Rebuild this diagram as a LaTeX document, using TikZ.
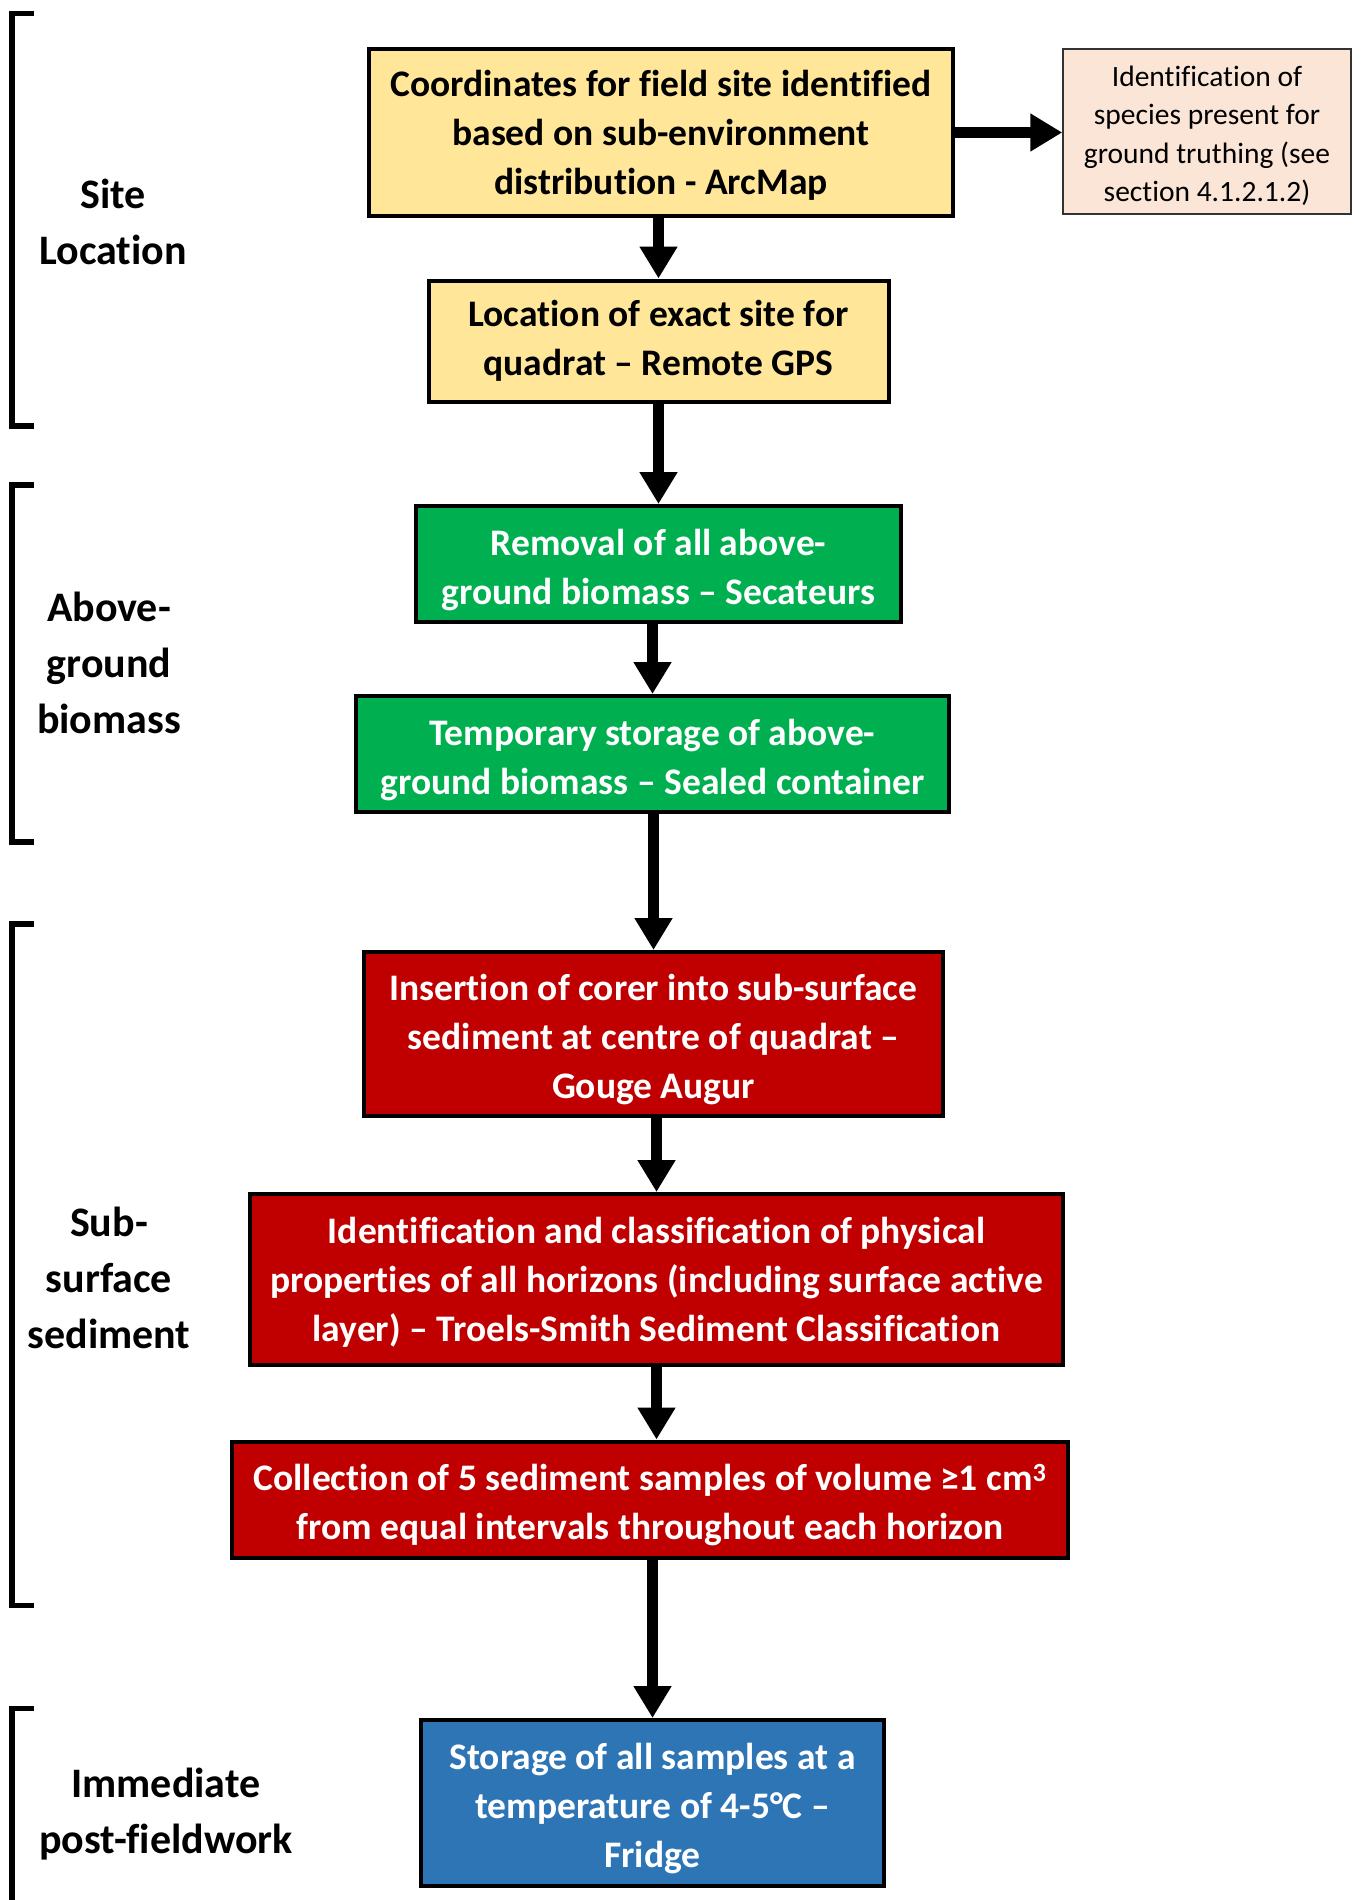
\documentclass[tikz,border=0pt]{standalone}
\usepackage{fontspec}
\setmainfont{Carlito}[Ligatures={TeX,NoCommon}]
\usetikzlibrary{arrows.meta,calc}
\definecolor{yel}{HTML}{FFE699}
\definecolor{peach}{HTML}{FBE5D6}
\definecolor{grn}{HTML}{00B050}
\definecolor{rd}{HTML}{C00000}
\definecolor{blu}{HTML}{2E75B6}
\newcommand\boxfnt{\fontsize{37.5}{49}\selectfont\bfseries}
\newcommand\labfnt{\fontsize{42}{56}\selectfont\bfseries}
\newcommand\idfnt{\fontsize{29.5}{38.5}\selectfont}
\newcommand\lead[1][38pt]{\rule{0pt}{#1}}
\newcommand\idlead{\rule{0pt}{29pt}}
\tikzset{
  stepbox/.style={draw=black, line width=4pt, inner sep=0pt, align=center, font=\boxfnt},
  whitetxt/.style={text=white},
  sidelab/.style={inner sep=0pt, align=center, font=\labfnt},
  arr/.style={line width=11pt, -{Triangle[length=32pt,width=36pt]}},
  brack/.style={line width=5.5pt}
}
\begin{document}
\begin{tikzpicture}[x=1pt,y=-1pt]
\path[use as bounding box] (0,0) rectangle (1362,1900);
% brackets
\draw[brack] (34,13.5) -- (12,13.5) -- (12,426) -- (34,426);
\draw[brack] (34,485) -- (12,485) -- (12,842) -- (34,842);
\draw[brack] (34,924) -- (12,924) -- (12,1605.5) -- (34,1605.5);
\draw[brack] (34,1708.5) -- (12,1708.5) -- (12,1905);
% side labels
\node[sidelab] (l1) at (113,221.5) {Site\\Location};
\node[sidelab] (l2) at (109,663) {Above-\\ground\\biomass};
\node[sidelab] (l3) at (109,1278) {Sub-\\surface\\sediment};
\node[sidelab] (l4) at (166,1814) {Immediate\\post-fieldwork};
% boxes
\node[stepbox, fill=yel, minimum width=584pt, minimum height=167pt] (b1) at (661,132.5)
  {\lead[31pt]Coordinates for field site identified\\based on sub-environment\\distribution - ArcMap};
\node[draw=black!80, line width=1.5pt, fill=peach, inner sep=0pt, align=center, font=\idfnt,
  minimum width=288pt, minimum height=165pt] (id) at (1207,131.5)
  {\idlead Identification of\\species present for\\ground truthing (see\\section 4.1.2.1.2)};
\node[stepbox, fill=yel, minimum width=460pt, minimum height=121pt] (b2) at (658.5,341)
  {Location of exact site for\\quadrat – Remote GPS};
\node[stepbox, whitetxt, fill=grn, minimum width=485pt, minimum height=116pt] (b3) at (658.5,564)
  {\lead Removal of all above-\\ground biomass – Secateurs};
\node[stepbox, whitetxt, fill=grn, minimum width=593pt, minimum height=116pt] (b4) at (652.5,754)
  {\lead Temporary storage of above-\\ground biomass – Sealed container};
\node[stepbox, whitetxt, fill=rd, minimum width=579pt, minimum height=164pt] (b5) at (653.5,1034)
  {\lead Insertion of corer into sub-surface\\sediment at centre of quadrat –\\Gouge Augur};
\node[stepbox, whitetxt, fill=rd, minimum width=813pt, minimum height=171pt] (b6) at (656.5,1279.5)
  {\lead[31pt]Identification and classification of physical\\properties of all horizons (including surface active\\layer) – Troels-Smith Sediment Classification};
\node[stepbox, whitetxt, fill=rd, minimum width=836pt, minimum height=116pt] (b7) at (650,1499.5)
  {\lead Collection of 5 sediment samples of volume ≥1 cm\textsuperscript{3}\\from equal intervals throughout each horizon};
\node[stepbox, whitetxt, fill=blu, minimum width=463pt, minimum height=166pt] (b8) at (652.5,1803)
  {\lead Storage of all samples at a\\temperature of 4-5°C –\\Fridge};
% connectors
\draw[arr] (b1.east) -- (b1.east -| id.west);
\draw[arr] (b2.north |- b1.south) -- (b2.north);
\draw[arr] (b3.north |- b2.south) -- (b3.north);
\draw[arr] (b4.north |- b3.south) -- (b4.north);
\draw[arr] (b5.north |- b4.south) -- (b5.north);
\draw[arr] (b6.north |- b5.south) -- (b6.north);
\draw[arr] (b6.south) -- (b6.south |- b7.north);
\draw[arr] (b8.north |- b7.south) -- (b8.north);
\end{tikzpicture}
\end{document}
